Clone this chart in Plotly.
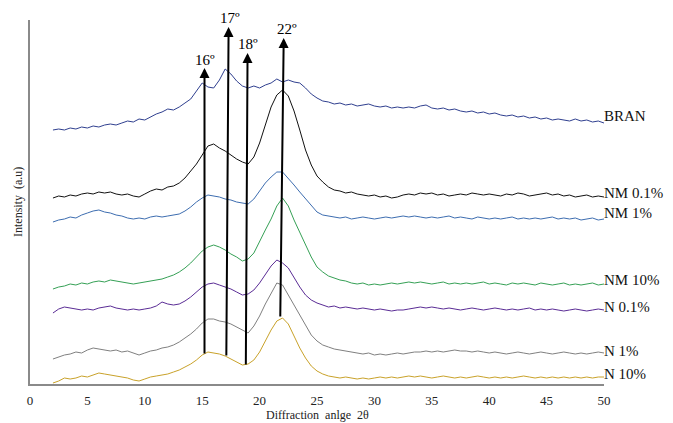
import plotly.graph_objects as go

two_theta = [2 + 0.5 * i for i in range(97)]

bran = [254,255,254,256,255,257,256,258,257,259,260,259,261,263,262,265,264,267,270,272,
        275,274,277,281,285,293,301,297,296,304,315,310,303,298,296,298,296,299,301,305,
        302,304,302,301,296,290,286,283,282,280,281,279,280,278,279,280,278,277,278,276,
        277,276,277,276,278,279,276,275,276,274,275,273,272,273,271,272,270,271,269,268,
        269,267,268,266,267,265,266,264,265,264,263,265,263,264,262,263,261]

nm_01 = [186,188,187,189,188,190,191,190,192,191,192,190,189,190,188,187,190,193,195,194,
         197,198,201,206,213,220,229,238,240,236,233,229,225,222,220,227,241,259,277,289,
         294,288,273,254,234,219,208,202,197,194,193,191,192,190,189,188,189,187,188,186,
         187,189,190,189,191,190,191,189,190,188,189,190,189,191,190,189,190,189,188,190,
         189,191,190,188,189,190,191,189,190,188,189,187,188,189,187,188,187]

nm_1 = [162,164,165,167,166,169,171,173,174,172,171,169,168,166,165,166,165,167,168,167,
        168,169,170,173,177,182,186,189,188,187,185,184,182,181,180,185,193,201,207,212,
        212,206,199,192,185,178,172,169,168,167,166,167,165,166,167,166,165,166,167,166,
        167,168,167,168,167,166,167,166,167,168,166,167,166,165,167,166,165,166,165,166,
        167,165,166,165,166,165,166,167,165,166,165,166,164,165,166,164,165]

nm_10 = [95,97,98,100,99,101,100,102,103,102,104,103,102,101,100,101,102,103,104,105,
         107,109,112,116,121,127,133,137,139,137,134,130,127,123,125,131,143,154,165,178,
         186,178,164,152,139,127,117,112,108,106,104,103,101,100,101,99,100,99,100,101,
         100,101,102,101,102,101,100,101,102,100,101,100,101,100,101,102,100,101,100,99,
         101,100,101,100,99,101,100,99,100,101,99,100,99,100,101,99,100]

n_01 = [71,75,77,76,75,74,75,74,76,77,78,76,75,74,75,74,75,76,78,82,
        80,79,80,83,87,92,97,100,101,99,97,95,92,89,90,94,101,110,118,124,
        121,116,106,97,89,84,81,79,77,78,76,77,76,75,76,75,74,75,74,73,
        74,74,75,76,77,76,77,76,75,76,75,74,75,76,75,74,75,76,75,74,
        75,74,75,76,74,75,74,75,74,73,74,75,74,73,74,75,74]

n_1 = [25,27,29,30,32,31,34,36,35,34,33,34,32,33,31,29,31,33,34,36,
       37,39,42,46,50,55,61,65,65,63,62,60,57,54,51,58,68,80,91,101,
       99,89,78,68,58,49,43,39,37,35,34,33,32,31,30,31,29,30,29,30,
       31,30,31,32,32,33,32,33,32,33,34,33,33,32,33,32,31,32,31,30,
       31,32,31,30,31,32,31,30,31,32,31,30,31,30,31,32,31]

n_10 = [1,3,6,5,6,8,7,9,11,10,9,8,7,6,4,3,5,7,8,9,
        10,12,14,17,20,24,29,32,31,30,28,25,22,19,20,24,32,43,54,63,
        66,60,48,36,26,18,13,10,8,7,6,7,6,5,6,5,6,7,6,7,
        6,7,8,7,8,7,6,7,8,7,6,7,6,7,8,7,6,7,6,7,
        6,7,8,7,6,7,6,7,6,7,6,7,6,7,6,7,7]

series_names = ["BRAN", "NM 0.1%", "NM 1%", "NM 10%", "N 0.1%", "N 1%", "N 10%"]
series_values = [bran, nm_01, nm_1, nm_10, n_01, n_1, n_10]
series_colors = ["#2F3F8F", "#111111", "#3D6DB0", "#35A055", "#5A2C95", "#808080", "#C9A22A"]
label_heights = [268, 191, 171, 104, 77, 33, 10]

# peak marker arrows
peak_labels = ["16º", "17º", "18º", "22º"]
peak_bottom_x = [15.2, 17.1, 18.8, 21.8]
peak_bottom_y = [29, 27, 18, 66]
peak_top_x = [15.2, 17.3, 18.95, 22.1]
peak_top_y = [316, 357, 331, 346]
peak_text_x = [15.2, 17.4, 19.0, 22.4]
peak_text_y = [324, 366, 340, 355]

serif = "Liberation Serif"
Y_MAX = 364

fig = go.Figure()
for name, vals, col in zip(series_names, series_values, series_colors):
    fig.add_trace(go.Scatter(x=two_theta, y=vals, mode="lines", name=name,
                             line=dict(color=col, width=1), showlegend=False))

annotations = []
for name, h in zip(series_names, label_heights):
    annotations.append(dict(x=50, y=h, xref="x", yref="y", text=name, showarrow=False,
                            xanchor="left", yanchor="middle", xshift=-2,
                            font=dict(family=serif, size=15, color="#111111")))

for lab, bx, by, tx, ty, lx, ly in zip(peak_labels, peak_bottom_x, peak_bottom_y,
                                      peak_top_x, peak_top_y, peak_text_x, peak_text_y):
    annotations.append(dict(x=tx, y=ty, ax=bx, ay=by, xref="x", yref="y",
                            axref="x", ayref="y", text="", showarrow=True,
                            arrowhead=2, arrowsize=1, arrowwidth=2, arrowcolor="#000000"))
    annotations.append(dict(x=lx, y=ly / Y_MAX, xref="x", yref="paper", text=lab, showarrow=False,
                            xanchor="center", yanchor="middle",
                            font=dict(family=serif, size=15, color="#000000")))

annotations.append(dict(x=0.5, y=0, xref="paper", yref="paper", yshift=-31, yanchor="middle",
                        text="Diffraction  anlge  2θ", showarrow=False,
                        font=dict(family=serif, size=12, color="#222222")))
annotations.append(dict(x=0, y=0.5, xref="paper", yref="paper", xshift=-12, text="Intensity  (a.u)",
                        textangle=-90, showarrow=False, xanchor="center", yanchor="middle",
                        font=dict(family=serif, size=12, color="#222222")))

# page body has an 8px margin, so the figure is sized/offset to land on the target pixels
fig.update_layout(
    width=665, height=415,
    margin=dict(l=22, r=69, t=12, b=39),
    paper_bgcolor="white", plot_bgcolor="white",
    annotations=annotations,
    xaxis=dict(range=[0, 50], tickmode="array", tickvals=[0, 5, 10, 15, 20, 25, 30, 35, 40, 45, 50],
               showgrid=False, zeroline=False, showline=True, linecolor="#8a8a8a", linewidth=1.5,
               ticks="", automargin=False, ticklabelstandoff=4,
               tickfont=dict(family=serif, size=13, color="#222222")),
    yaxis=dict(range=[0, Y_MAX], showgrid=False, zeroline=False, showline=True,
               linecolor="#8a8a8a", linewidth=1.5, showticklabels=False, ticks="",
               automargin=False),
)

fig.write_html("out.html")
